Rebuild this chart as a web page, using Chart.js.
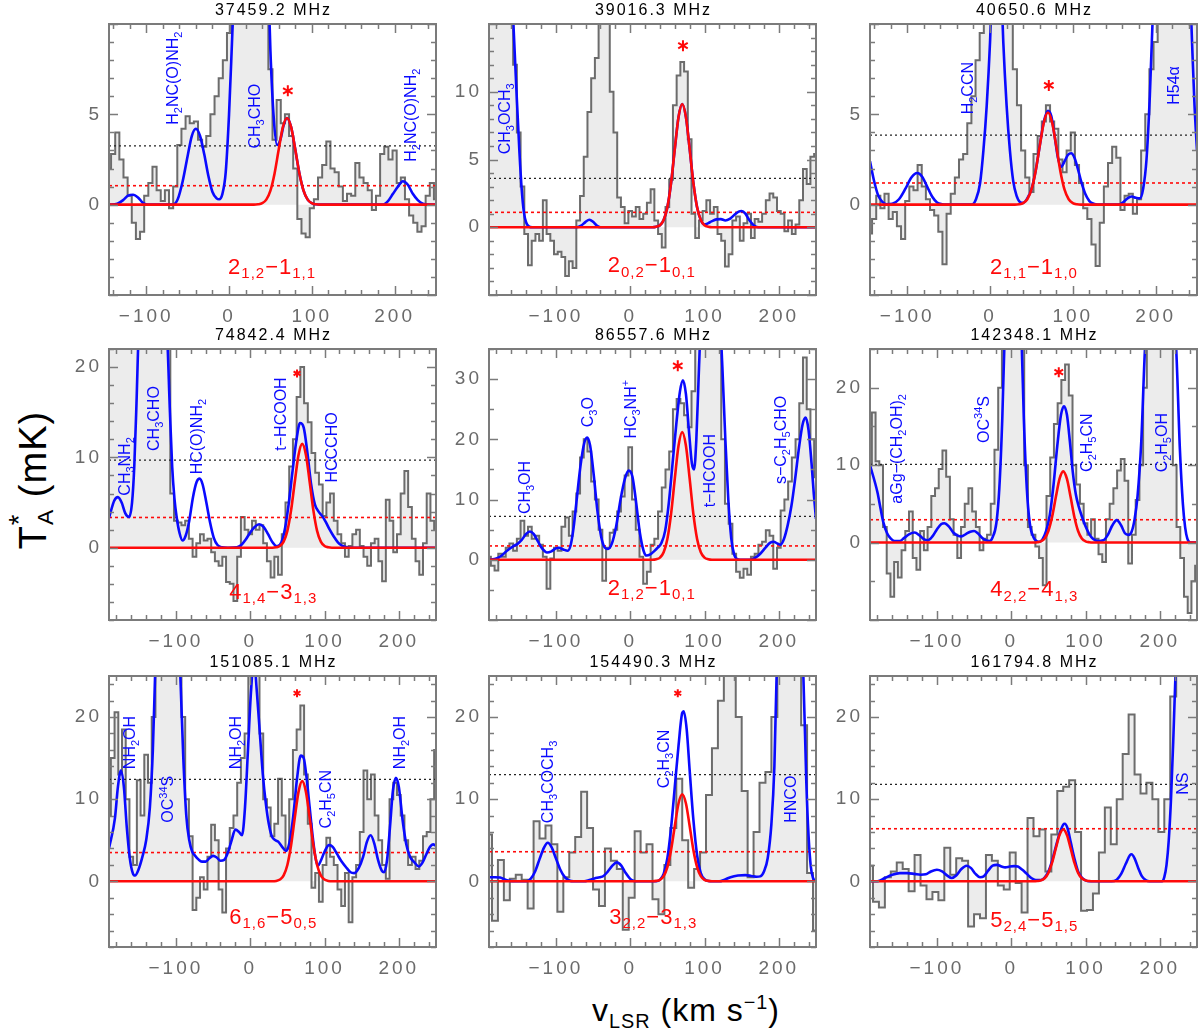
<!DOCTYPE html>
<html>
<head>
<meta charset="utf-8">
<title>Spectra</title>
<script src="https://cdn.jsdelivr.net/npm/chart.js@4.4.1/dist/chart.umd.min.js"></script>
<style>
  html, body { margin: 0; padding: 0; background: #fff; }
  body { position: relative; width: 1200px; height: 1033px; overflow: hidden;
         font-family: 'Liberation Sans', Arial, Helvetica, sans-serif; }
  canvas { position: absolute; }
  .axis-title { position: absolute; white-space: nowrap; color: #000; transform-origin: center; }
  #ytitle { left: 33px; top: 480px; font-size: 38px; letter-spacing: 1px;
            transform: translate(-50%, -50%) rotate(-90deg); }
  #xtitle { left: 686px; top: 1012px; font-size: 32px; letter-spacing: 1px;
            transform: translate(-50%, -50%); }
  .ta { position: relative; }
  .ta .sa { font-size: 0.6em; position: relative; top: 0.32em; }
  .ta .st { font-size: 0.72em; position: absolute; left: 24px; top: -9px; }
  #xtitle sub, #xtitle sup { font-size: 0.62em; }
</style>
</head>
<body>
<div class="axis-title" id="ytitle"><span class="ta">T<span class="sa">A</span><span class="st">*</span></span>&nbsp;(mK)</div>
<div class="axis-title" id="xtitle">v<sub>LSR</sub>&nbsp;(km&nbsp;s<sup>&minus;1</sup>)</div>
<script>
// ---- observed spectra: T_A* (mK) per channel ----
const hist1 = [
  2.0, 2.8, 4.0, 2.5, 1.5, 0.5, -1.0, -1.9, -1.5, 0.5,
  1.2, 2.1, 0.8, 0.2, 0.8, -0.2, 1.0, 3.3, 4.2, 4.9,
  4.5, 4.6, 3.6, 3.2, 3.8, 5.0, 6.0, 7.0, 8.0, 9.5,
  20, 20, 20, 20, 20, 20, 20, 20, 16, 7.5,
  3.6, 5.8, 4.5, 5.0, 3.8, 2.0, -0.8, -1.6, -1.8, -0.2,
  0.3, 1.5, 2.2, 3.5, 2.0, 1.8, 1.0, 0.2, 0.6, 0.5,
  2.3, 1.5, 1.2, 0.8, -0.3, 0.5, 2.8, 3.2, 2.5, 3.0,
  1.2, 1.5, 0.3, -0.6, -1.0, -1.5, -1.2, 0.5, 1.2, 0.3
];
const hist2 = [
  20, 20, 20, 20, 20, 20, 18, 12, 7.0, 3.0,
  -0.5, -2.8, -1.0, -0.5, -1.0, 2.0, -0.5, -1.0, -2.0, -1.8,
  -2.2, -3.6, -2.5, -3.0, 0.5, 2.3, 5.2, 8.5, 11.0, 12.5,
  18, 20, 19, 10, 7.0, 2.2, 1.5, 0.3, 1.2, 0.8,
  1.5, 0.6, 1.0, 1.8, 2.8, 0.5, -0.5, -1.5, 1.5, 3.5,
  9.0, 11.2, 12.2, 11.5, 6.5, 1.0, -0.8, 0.5, 1.2, 2.0,
  1.0, 1.5, -0.5, -1.0, -2.9, -2.0, 0.5, 0.8, -1.0, 0.3,
  1.0, -0.8, 0.6, 0.4, 1.0, 2.0, 2.5, 2.2, 1.2, 1.0,
  -0.3, 0.5, -0.5, 0.2, 2.0, 4.3, 3.2, 5.2, 5.4
];
const hist3 = [
  -1.6, -0.8, 0.5, -0.2, 0.6, -0.8, -0.4, -1.2, -1.9, 0.2,
  1.0, 0.8, 2.2, 1.0, 0.3, -0.3, -0.6, -1.5, -3.3, -0.5,
  0.6, 1.5, 2.5, 2.8, 4.5, 6.0, 8.0, 9.5, 12, 16,
  20, 20, 20, 20, 20, 7.5, 5.5, 3.0, 1.5, 0.7,
  2.8, 3.8, 4.6, 5.5, 4.6, 4.2, 2.5, 1.8, 3.0, 4.0,
  2.2, 1.2, -0.2, -0.8, -2.2, -3.4, -1.0, 1.0, 2.3, 3.2,
  2.6, -0.3, 0.5, 0.6, -0.5, 0.3, 3.0, 5.0, 7.5, 9.0,
  20, 20, 20, 20, 20, 20, 20, 20, 20, 20
];
const hist4 = [
  30, 30, 30, 30, 30, 30, 30, 30, 30, 30,
  30, 30, 30, 30, 30, 30, 30, 6.0, 3.0, 2.8,
  2.5, 3.0, 1.0, -1.0, 0.5, 1.5, 0.8, 1.0, -0.5, -1.5,
  -2.0, -1.0, -3.8, -4.0, -5.9, -1.0, 3.4, 2.0, 1.5, 3.0,
  2.0, 2.5, 0.5, -1.5, -3.3, -1.0, -3.0, 1.5, 5.0, 9.0,
  12.0, 16.7, 20.0, 16.0, 13.9, 10.5, 8.3, 7.0, 3.5, 5.0,
  6.0, 3.0, 1.5, 0.5, -1.0, 0.2, 1.5, 2.0, 0.2, -1.0,
  -2.0, 0.5, 1.0, -1.5, -3.7, 5.3, 3.0, -0.5, 1.5, 6.0,
  8.5, 4.5, 1.0, -1.5, -3.0, 0.5, 6.0, 3.0, 2.0
];
const hist5 = [
  0.5, -1.0, -1.8, 1.0, 0.5, 2.0, 2.7, 1.5, 3.5, 6.5,
  4.0, 5.5, 3.5, 4.0, 2.5, 0.5, -4.8, 0.2, 2.0, 1.5,
  5.5, 7.0, 4.0, 8.0, 11.0, 17.0, 20.0, 18.0, 13.0, 10.0,
  5.0, -3.5, 2.0, 4.5, 5.0, 8.0, 10.5, 14.0, 18.7, 10.0,
  5.0, 0.5, -4.0, -2.0, 2.5, 3.5, 8.0, 12.0, 15.0, 18.0,
  25.0, 26.7, 26.0, 24.0, 22.0, 28.0, 36, 40, 40, 40,
  40, 40, 40, 20, 9.3, 6.0, 1.0, -2.0, -3.0, -1.5,
  -2.5, 0.5, 1.0, 2.5, 3.0, 4.9, 4.0, -1.5, 2.0, 8.2,
  10.0, 13.0, 17.0, 20.0, 26.0, 33.6, 25.0, 20.0, 13.7
];
const hist6 = [
  10.0, 16.8, 10.5, 10.0, 2.0, -4.0, -7.0, -2.5, -4.5, -1.0,
  1.5, 4.0, -2.0, -3.5, 1.5, -1.0, 2.0, 6.0, 7.0, 9.5,
  11.9, 8.5, 3.0, 1.0, -2.0, 2.0, 5.0, 7.0, 4.0, 2.0,
  -1.0, 0.5, 1.0, 5.0, 12.0, 20.0, 30, 30, 30, 30,
  30, 30, 10.0, 2.0, 1.0, -0.5, -2.0, -5.5, 6.0, 11.0,
  15.3, 18.0, 21.0, 23.0, 19.0, 10.0, 7.5, 5.0, 2.5, 1.0,
  3.0, 0.5, -1.5, -2.5, 3.0, 5.0, 7.0, 9.3, 10.8, 8.0,
  -2.7, 1.0, 5.5, 10.0, 20, 30, 30, 30, 30, 30,
  30, 30, 10.0, 2.0, -2.0, -7.0, -9.1, -5.0, -3.0
];
const hist7 = [
  8.0, 15.0, 20.6, 13.0, 18.5, 10.0, 3.0, 2.0, 12.3, 8.0,
  15.4, 12.0, 20.0, 30, 30, 30, 30, 30, 30, 25.5,
  20.0, 10.0, 5.5, -3.5, -2.0, 0.5, -1.0, 3.0, 6.9, 5.0,
  -1.0, -3.8, 4.0, 6.5, 8.0, 12.0, 15.0, 18.0, 26, 30,
  26, 18.0, 10.0, 9.0, 5.5, 7.0, 12.5, 8.0, 4.0, 10.0,
  16.0, 18.5, 21.4, 13.0, 7.0, -0.8, 1.0, -2.5, 2.0, 5.3,
  3.0, 2.0, -1.0, -3.0, 1.0, -5.0, 0.5, 2.0, 6.0, 13.5,
  10.0, 13.0, 8.0, 5.0, 2.0, 0.3, 10.0, 12.0, 10.5, 8.0,
  5.0, 2.0, 3.0, 1.5, 2.5, 5.5, 6.0, 10.0, 16.0
];
const hist8 = [
  5.7, -4.8, 2.6, -2.3, 0.3, 0.8, 0.2, -3.3, 7.3, 5.2,
  6.8, 4.5, -3.7, 0.5, 3.5, 5.4, 10.9, 6.5, -1.0, -3.0,
  4.0, 2.5, 1.5, -5.9, -2.0, 6.1, 3.5, 4.5, -2.2, -4.0,
  2.0, 6.5, 12.5, 5.0, -0.8, 1.5, 3.5, 10.5, 16.2, 22.0,
  30, 30, 20.0, 11.0, 0.5, 6.0, 12.0, 13.3, 20.0, 30,
  30, 30, 30, 19.0, 1.0, -6.0
];
const hist9 = [
  1.9, -2.5, -3.2, 0.5, 1.2, 2.3, 1.5, -1.2, 3.2, -0.5,
  -2.2, -1.3, -2.3, 4.1, 0.8, 2.8, 2.5, -5.5, -4.0, -4.5,
  3.2, 2.5, -0.5, -1.0, 3.5, -0.2, -3.8, 7.7, 5.5, 6.3,
  1.2, 5.7, 11.0, 11.5, 12.3, 6.0, -3.6, -3.5, -1.5, 3.5,
  9.0, 4.5, 10.0, 15.5, 20.3, 13.0, 10.7, 12.0, 10.0, 6.0,
  10.0, 22.5, 30, 30, 30, 30
];
// first channel velocity and channel width (km/s)
const histStart = [-145, -190, -145, -190, -190, -190, -190, -190, -190];
const histStep = [5, 5, 5, 5, 5, 5, 5, 8, 8];

// ---- full model (blue), [v, T] ----
const blue1 = [[-145,0],[-135,0.05],[-128,0.25],[-122,0.5],[-116,0.55],[-110,0.4],[-104,0.1],[-98,0],[-68,0],[-62,0.3],[-56,1.3],[-50,2.7],[-45,3.8],[-40,4.2],[-35,3.8],[-30,2.8],[-25,1.6],[-20,0.7],[-15,0.35],[-12,0.3],[-8,0.6],[-4,1.8],[0,5],[4,9.5],[8,14],[20,30],[35,28],[45,16],[50,8.5],[54,4.8],[58,3.3],[62,3.6],[66,4.4],[70,4.8],[75,4.3],[80,3.05],[85,1.73],[90,0.78],[95,0.28],[100,0.08],[105,0.02],[110,0],[185,0],[192,0.2],[198,0.6],[204,1.0],[210,1.3],[216,1.1],[222,0.6],[228,0.25],[234,0.05],[240,0],[250,0]];
const blue2 = [[-190,60],[-175,40],[-165,25],[-158,16],[-153,10],[-149,5.5],[-146,2.8],[-143,1.1],[-140,0.35],[-136,0.05],[-132,0],[-72,0],[-66,0.12],[-60,0.4],[-55,0.55],[-50,0.4],[-45,0.12],[-40,0],[30,0],[35,0.04],[40,0.15],[45,0.54],[50,1.48],[55,3.28],[60,5.78],[65,8.13],[70,9.1],[75,8.13],[80,5.78],[85,3.28],[90,1.48],[95,0.54],[100,0.2],[105,0.3],[110,0.45],[116,0.58],[122,0.6],[128,0.5],[134,0.62],[140,0.9],[146,1.15],[150,1.2],[155,1.0],[160,0.55],[166,0.15],[172,0],[250,0]];
const blue3 = [[-145,2.4],[-140,1.3],[-135,0.5],[-130,0.15],[-125,0.02],[-118,0.05],[-110,0.3],[-102,0.9],[-95,1.5],[-88,1.75],[-82,1.55],[-76,1.0],[-70,0.45],[-64,0.12],[-58,0.02],[-52,0],[-22,0],[-17,0.3],[-12,1.2],[-8,3],[-4,5.5],[0,9],[4,14],[8,17],[12,14],[16,9],[20,5.5],[24,3],[28,1.3],[32,0.5],[36,0.15],[40,0.1],[45,0.35],[50,0.85],[55,1.85],[60,3.25],[65,4.6],[70,5.2],[74,4.9],[78,3.8],[82,2.6],[86,2.1],[90,2.4],[94,2.75],[98,2.85],[102,2.6],[106,2.0],[110,1.3],[115,0.6],[120,0.2],[125,0.05],[130,0],[155,0],[160,0.1],[166,0.35],[171,0.45],[176,0.38],[181,0.35],[185,0.9],[189,2.5],[193,6],[197,11],[205,20],[225,25],[240,14],[244,9],[247,5.5],[250,3.0]];
const blue4 = [[-190,3.3],[-183,5.2],[-178,5.6],[-173,5.0],[-168,3.8],[-163,3.4],[-159,5],[-156,9],[-153,16],[-150,24],[-130,40],[-112,24],[-108,15],[-105,9],[-102,5.5],[-99,3.4],[-95,1.6],[-91,0.8],[-87,1.3],[-82,3.0],[-77,5.6],[-72,7.3],[-68,7.65],[-64,7.0],[-59,5.0],[-54,2.8],[-49,1.1],[-44,0.3],[-38,0.05],[-30,0],[-18,0.05],[-12,0.3],[-6,0.9],[0,1.7],[6,2.3],[12,2.6],[18,2.3],[24,1.5],[30,0.6],[36,0.15],[42,0.6],[47,2.2],[52,5.0],[57,8.5],[62,11.8],[67,13.8],[72,13.3],[77,10.5],[82,7.0],[87,4.8],[92,4.0],[97,3.5],[102,2.8],[107,2.0],[112,1.3],[118,0.6],[124,0.2],[130,0.05],[135,0],[250,0]];
const blue5 = [[-190,0],[-180,0.2],[-172,0.8],[-165,1.6],[-158,2.2],[-152,2.6],[-146,3.3],[-140,4.3],[-135,4.7],[-130,4.3],[-124,3.0],[-118,1.8],[-112,1.2],[-106,1.4],[-100,1.9],[-96,2.0],[-90,1.7],[-84,1.5],[-80,2.5],[-76,5.5],[-72,10],[-67,15.5],[-62,19.3],[-58,20.3],[-54,19],[-49,14],[-44,8],[-39,3.8],[-34,2.0],[-30,1.8],[-25,2.6],[-19,5.5],[-13,10],[-7,13.5],[-2,14.8],[3,13.8],[8,9.5],[13,4.5],[18,1.5],[22,0.7],[27,0.9],[32,1.4],[37,2.0],[42,2.8],[47,4.8],[52,9.5],[57,16],[62,22.5],[67,28],[71,29.8],[75,27.5],[79,21.5],[83,16],[86,15],[89,20],[92,30],[96,42],[110,55],[120,42],[124,32],[128,20],[132,10],[136,3.5],[140,0.8],[144,0.1],[148,0],[162,0],[168,0.3],[175,1.0],[182,2.0],[188,2.8],[193,3.0],[198,2.7],[202,2.5],[207,3.5],[212,5.8],[217,9.0],[222,13.5],[227,18.5],[232,22.5],[236,23.6],[240,21.5],[244,16],[247,11],[250,6.8]];
const blue6 = [[-190,10],[-180,6.5],[-176,4.5],[-172,2.6],[-167,1.2],[-162,0.5],[-157,0.2],[-150,0.2],[-144,0.6],[-137,1.1],[-130,1.3],[-123,0.9],[-117,0.4],[-112,0.3],[-106,0.8],[-100,1.7],[-94,2.4],[-90,2.5],[-84,2.1],[-78,1.3],[-72,0.9],[-67,0.8],[-61,1.1],[-55,1.4],[-50,1.5],[-45,1.2],[-39,0.6],[-34,0.3],[-29,0.2],[-25,0.7],[-20,2.5],[-16,7],[-12,16],[-9,26],[2,45],[14,26],[17,16],[21,7],[25,2.5],[30,0.7],[34,0.2],[38,0.1],[42,0.4],[47,1.5],[52,3.6],[57,7.5],[62,12.5],[67,16.5],[71,17.6],[75,16.5],[79,13],[83,9],[87,6.2],[91,4.6],[95,3.4],[100,2.1],[105,1.1],[110,0.5],[117,0.2],[124,0.3],[130,1.0],[136,2.2],[142,2.9],[148,2.2],[153,1.2],[158,1.0],[162,1.4],[166,3],[170,6],[175,13],[180,25],[201,50],[222,25],[227,12],[231,5],[234,2],[237,0.5],[241,0],[250,0]];
const blue7 = [[-190,4],[-182,7.7],[-178,11.5],[-174,13.5],[-170,11.5],[-166,6.5],[-162,2.8],[-158,1.0],[-155,0.7],[-150,1.5],[-145,3.0],[-140,5.0],[-135,9],[-131,16],[-128,25],[-124,35],[-110,45],[-98,33],[-94,25],[-90,15],[-86,8],[-82,5],[-78,3.6],[-74,3.1],[-70,2.7],[-65,2.4],[-60,2.4],[-55,2.8],[-50,3.1],[-45,2.9],[-40,2.5],[-35,2.6],[-30,3.5],[-25,5.0],[-20,6.3],[-15,6.0],[-11,5.6],[-7,9],[-3,16],[1,23],[5,27],[9,23],[13,18],[17,13],[21,9.5],[25,7],[29,5.5],[34,5.0],[38,4.8],[43,4.2],[48,3.7],[53,4.8],[58,8.0],[63,12.5],[68,15.3],[72,15.0],[76,12.5],[80,9],[84,5.5],[88,2.8],[91,1.9],[95,2.5],[100,3.6],[106,4.4],[111,4.2],[117,3.3],[123,2.4],[130,1.6],[135,1.1],[140,1.0],[146,1.6],[152,3.0],[157,4.8],[162,5.6],[167,4.6],[172,2.6],[177,1.3],[180,1.1],[184,2.5],[188,6.5],[192,11],[196,12.6],[200,11.5],[205,7.5],[210,4.5],[215,3.0],[221,2.3],[227,1.8],[232,2.3],[237,3.3],[242,4.2],[246,4.5],[250,4.3]];
const blue8 = [[-190,0.5],[-182,0.5],[-175,0.45],[-168,0.2],[-162,0.05],[-156,0],[-140,0],[-134,0.3],[-128,1.2],[-122,2.7],[-116,4.1],[-111,4.7],[-106,4.2],[-100,2.8],[-94,1.4],[-88,0.5],[-82,0.1],[-76,0],[-62,0],[-55,0.15],[-48,0.35],[-41,0.5],[-36,0.65],[-30,1.2],[-24,1.9],[-18,2.3],[-12,1.9],[-6,1.0],[0,0.3],[5,0.05],[10,0],[35,0],[40,0.2],[45,0.9],[50,2.8],[55,6.5],[60,11.5],[65,16.5],[70,20.5],[72,20.7],[76,18.5],[80,13.5],[85,7.5],[90,3.2],[95,1.0],[100,0.25],[105,0.05],[110,0],[120,0],[127,0.2],[135,0.5],[145,0.7],[155,0.75],[163,0.65],[170,0.55],[175,0.6],[180,1.2],[185,2.8],[190,7],[194,14],[197,25],[215,45],[233,25],[237,12],[240,5.5],[243,1.8],[246,0.4],[250,0]];
const blue9 = [[-190,0],[-180,0],[-170,0.4],[-160,0.8],[-150,1.0],[-140,1.0],[-130,0.9],[-122,0.8],[-115,0.85],[-108,1.2],[-100,1.4],[-93,1.2],[-86,0.7],[-80,0.4],[-74,0.7],[-67,1.5],[-60,1.9],[-54,1.6],[-48,0.9],[-42,0.5],[-37,0.6],[-31,1.3],[-25,1.9],[-19,2.0],[-13,1.8],[-8,1.7],[-2,1.8],[4,1.85],[9,1.8],[15,1.4],[21,0.9],[27,0.4],[33,0.15],[40,0.15],[45,0.45],[50,1.2],[55,2.5],[60,4.2],[65,5.8],[70,6.9],[72,7.0],[76,6.4],[80,4.8],[85,2.8],[90,1.2],[95,0.45],[100,0.12],[105,0],[135,0],[142,0.2],[148,0.9],[154,2.1],[160,3.2],[162,3.3],[166,2.8],[171,1.6],[176,0.6],[181,0.15],[186,0],[203,0],[206,0.5],[209,2],[212,5],[215,10],[218,17],[221,25],[230,45],[250,60]];

// ---- fitted line (red), [v, T] ----
const red1 = [[-145,0],[30,0],[35,0.02],[40,0.08],[45,0.28],[50,0.78],[55,1.73],[60,3.05],[65,4.29],[70,4.8],[75,4.29],[80,3.05],[85,1.73],[90,0.78],[95,0.28],[100,0.08],[105,0.02],[110,0],[250,0]];
const red2 = [[-190,0],[30,0],[35,0.04],[40,0.15],[45,0.54],[50,1.48],[55,3.28],[60,5.78],[65,8.13],[70,9.1],[75,8.13],[80,5.78],[85,3.28],[90,1.48],[95,0.54],[100,0.15],[105,0.04],[110,0],[250,0]];
const red3 = [[-145,0],[30,0],[35,0.02],[40,0.09],[45,0.3],[50,0.83],[55,1.84],[60,3.24],[65,4.55],[70,5.1],[75,4.55],[80,3.24],[85,1.84],[90,0.83],[95,0.3],[100,0.09],[105,0.02],[110,0],[250,0]];
const red4 = [[-190,0],[30,0],[35,0.05],[40,0.2],[45,0.68],[50,1.87],[55,4.14],[60,7.3],[65,10.27],[70,11.5],[75,10.27],[80,7.3],[85,4.14],[90,1.87],[95,0.68],[100,0.2],[105,0.05],[110,0],[250,0]];
const red5 = [[-190,0],[30,0],[35,0.09],[40,0.36],[45,1.25],[50,3.46],[55,7.63],[60,13.46],[65,18.93],[70,21.2],[75,18.93],[80,13.46],[85,7.63],[90,3.46],[95,1.25],[100,0.36],[105,0.09],[110,0],[250,0]];
const red6 = [[-190,0],[30,0],[35,0.04],[40,0.16],[45,0.54],[50,1.5],[55,3.31],[60,5.84],[65,8.22],[70,9.2],[75,8.22],[80,5.84],[85,3.31],[90,1.5],[95,0.54],[100,0.16],[105,0.04],[110,0],[250,0]];
const red7 = [[-190,0],[30,0],[35,0.05],[40,0.21],[45,0.72],[50,1.99],[55,4.39],[60,7.75],[65,10.89],[70,12.2],[75,10.89],[80,7.75],[85,4.39],[90,1.99],[95,0.72],[100,0.21],[105,0.05],[110,0],[250,0]];
const red8 = [[-190,0],[30,0],[35,0.05],[40,0.18],[45,0.63],[50,1.73],[55,3.82],[60,6.73],[65,9.47],[70,10.6],[75,9.47],[80,6.73],[85,3.82],[90,1.73],[95,0.63],[100,0.18],[105,0.05],[110,0],[250,0]];
const red9 = [[-190,0],[30,0],[35,0.03],[40,0.11],[45,0.37],[50,1.03],[55,2.27],[60,4.0],[65,5.63],[70,6.3],[75,5.63],[80,4.0],[85,2.27],[90,1.03],[95,0.37],[100,0.11],[105,0.03],[110,0],[250,0]];

// ---- per panel ----
const titles = ['37459.2 MHz', '39016.3 MHz', '40650.6 MHz', '74842.4 MHz', '86557.6 MHz',
  '142348.1 MHz', '151085.1 MHz', '154490.3 MHz', '161794.8 MHz'];
const transitions = ['2_{1,2}\u22121_{1,1}', '2_{0,2}\u22121_{0,1}', '2_{1,1}\u22121_{1,0}',
  '4_{1,4}\u22123_{1,3}', '2_{1,2}\u22121_{0,1}', '4_{2,2}\u22124_{1,3}',
  '6_{1,6}\u22125_{0,5}', '3_{2,2}\u22123_{1,3}', '5_{2,4}\u22125_{1,5}'];
const xRanges = [[-145,250],[-190,250],[-145,250],[-190,250],[-190,250],[-190,250],[-190,250],[-190,250],[-190,250]];
const yRanges = [[-5,10],[-5,15],[-5,10],[-8,22],[-10,35],[-10,25],[-8,25],[-8,25],[-8,25]];
const yMajor = [5, 5, 5, 10, 10, 10, 10, 10, 10];
const yMinor = [1, 1, 1, 2, 5, 5, 2, 2, 2];
const rmsBlack = [3.25, 3.6, 3.85, 9.7, 7.2, 10.1, 12.4, 13.0, 11.8];
const rmsRed = [1.05, 1.1, 1.2, 3.35, 2.3, 2.95, 3.5, 3.6, 6.4];

const histData = [hist1, hist2, hist3, hist4, hist5, hist6, hist7, hist8, hist9];
const blueData = [blue1, blue2, blue3, blue4, blue5, blue6, blue7, blue8, blue9];
const redData = [red1, red2, red3, red4, red5, red6, red7, red8, red9];

// annotation placement (velocity, T)
const moleculeLabels = [
  [['H_2NC(O)NH_2', -69, 7.0], ['CH_3CHO', 30, 4.9], ['H_2NC(O)NH_2', 219, 4.95]],
  [['CH_3OCH_3', -169, 8.0]],
  [['H_2CCN', -28, 6.45], ['H54\u03b1', 221, 6.6]],
  [['CH_3NH_2', -169, 9.0], ['CH_3CHO', -130, 14.3], ['HC(O)NH_2', -72, 12.3], ['t\u2212HCOOH', 40, 14.8], ['HCCCHO', 109, 11.1]],
  [['CH_3OH', -142, 12], ['C_3O', -58, 24.5], ['HC_3NH^+', 0, 25], ['t\u2212HCOOH', 106, 14.8], ['s\u2212C_2H_5CHO', 202, 19.9]],
  [['aGg\u2212(CH_2OH)_2', -155, 12.1], ['OC^{34}S', -38, 15.9], ['C_2H_5CN', 101, 12.9], ['C_2H_5OH', 202, 12.9]],
  [['NH_2OH', -163, 16.9], ['OC^{34}S', -111, 10], ['NH_2OH', -20, 16.9], ['C_2H_5CN', 101, 10], ['NH_2OH', 200, 16.9]],
  [['CH_3COCH_3', -112, 12.1], ['C_2H_3CN', 45, 14.9], ['HNCO', 216, 10]],
  [['NS', 230, 11.9]]
];
const transitionPos = [[52,-3.4],[29,-2.75],[53,-3.4],[31,-4.8],[29,-4.5],[31,-5.9],[31,-4.2],[31,-4.2],[31,-4.6]];
const starPos = [[71,6.3],[71,13.4],[71,6.6],[63,19.3],[64,32.2],[64,22],[63,22.9],[64,22.9],null];
const starSize = [5.5, 5.5, 5.5, 4, 5.5, 5, 4, 4, 0];

// ---- layout ----
const PLOT_LEFT = [109, 489, 870];
const PLOT_TOP = [24, 349, 676];
const PLOT_W = 327, PLOT_H = 271;
const AXIS_W = 55, TITLE_H = 24, XAXIS_H = 40, PAD_R = 4;
const X_MAJOR = 100, X_MINOR = 20;

const FONT = "'Liberation Sans', Arial, Helvetica, sans-serif";
const AXIS_COLOR = '#7b7b7b';
const TICK_TEXT = '#6a6a6a';
const HIST_LINE = '#6c6c6c';
const HIST_FILL = '#ececec';
const BLUE = '#0a0aff';
const RED = '#ff0a0a';

function fmt(v) {
  return v < 0 ? '\u2212' + (-v) : String(v);
}

function pairs(a) {
  return a.map(p => ({x: p[0], y: p[1]}));
}

// multiples of step inside [min, max]
function tickValues(min, max, step) {
  const out = [];
  for (let v = Math.ceil(min / step) * step; v <= max; v += step) out.push({value: v});
  return out;
}

// split "CH_3OH" / "OC^{34}S" into normal, sub and sup runs
function parseRich(s) {
  const out = [];
  let i = 0;
  while (i < s.length) {
    const c = s[i];
    if (c === '_' || c === '^') {
      let t;
      if (s[i + 1] === '{') {
        const j = s.indexOf('}', i);
        t = s.slice(i + 2, j);
        i = j + 1;
      } else {
        t = s[i + 1];
        i += 2;
      }
      out.push({t: t, k: c === '_' ? 'sub' : 'sup'});
    } else {
      let j = i;
      while (j < s.length && s[j] !== '_' && s[j] !== '^') j++;
      out.push({t: s.slice(i, j), k: 'n'});
      i = j;
    }
  }
  return out;
}

function drawRich(ctx, s, x, y, size, color, spacing, subDrop) {
  const parts = parseRich(s);
  const small = Math.round(size * 0.68);
  ctx.fillStyle = color;
  ctx.textBaseline = 'alphabetic';
  ctx.textAlign = 'left';
  ctx.letterSpacing = spacing + 'px';
  let w = 0;
  parts.forEach(p => {
    ctx.font = (p.k === 'n' ? size : small) + 'px ' + FONT;
    p.w = ctx.measureText(p.t).width;
    w += p.w;
  });
  let cx = x - w / 2;
  const base = y + size * 0.36;
  parts.forEach(p => {
    ctx.font = (p.k === 'n' ? size : small) + 'px ' + FONT;
    const dy = p.k === 'sub' ? size * subDrop : (p.k === 'sup' ? -size * 0.42 : 0);
    ctx.fillText(p.t, cx, base + dy);
    cx += p.w;
  });
}

function drawStar(ctx, x, y, r) {
  ctx.beginPath();
  for (let k = 0; k < 3; k++) {
    const a = Math.PI / 2 + k * Math.PI / 3;
    ctx.moveTo(x + r * Math.cos(a), y - r * Math.sin(a));
    ctx.lineTo(x - r * Math.cos(a), y + r * Math.sin(a));
  }
  ctx.stroke();
}

const panelDecor = {
  id: 'panelDecor',
  beforeDraw(chart) {
    chart.ctx.letterSpacing = '3px';
  },
  afterDraw(chart, args, opts) {
    const i = opts.index;
    const ctx = chart.ctx;
    const a = chart.chartArea;
    const xs = chart.scales.x, ys = chart.scales.y;
    ctx.save();
    ctx.letterSpacing = '0px';

    // frame with inward ticks on all sides
    ctx.strokeStyle = AXIS_COLOR;
    ctx.lineWidth = 1.5;
    ctx.beginPath();
    for (let v = Math.ceil(xs.min / X_MINOR) * X_MINOR; v <= xs.max; v += X_MINOR) {
      const px = Math.round(xs.getPixelForValue(v)) + 0.5;
      const len = v % X_MAJOR === 0 ? 9 : 5;
      ctx.moveTo(px, a.bottom); ctx.lineTo(px, a.bottom - len);
      ctx.moveTo(px, a.top); ctx.lineTo(px, a.top + len);
    }
    for (let v = Math.ceil(ys.min / yMinor[i]) * yMinor[i]; v <= ys.max; v += yMinor[i]) {
      const py = Math.round(ys.getPixelForValue(v)) + 0.5;
      const len = v % yMajor[i] === 0 ? 9 : 5;
      ctx.moveTo(a.left, py); ctx.lineTo(a.left + len, py);
      ctx.moveTo(a.right, py); ctx.lineTo(a.right - len, py);
    }
    ctx.stroke();
    ctx.lineWidth = 2;
    ctx.strokeRect(a.left, a.top, a.right - a.left, a.bottom - a.top);

    // molecule labels, rotated
    moleculeLabels[i].forEach(m => {
      ctx.save();
      ctx.translate(xs.getPixelForValue(m[1]), ys.getPixelForValue(m[2]));
      ctx.rotate(-Math.PI / 2);
      drawRich(ctx, m[0], 0, 0, 16, BLUE, 0, 0.25);
      ctx.restore();
    });

    // transition label
    const tp = transitionPos[i];
    drawRich(ctx, transitions[i], xs.getPixelForValue(tp[0]), ys.getPixelForValue(tp[1]), 22, RED, 1, 0.2);

    // asterisk
    if (starPos[i]) {
      ctx.strokeStyle = RED;
      ctx.lineWidth = 2;
      drawStar(ctx, xs.getPixelForValue(starPos[i][0]), ys.getPixelForValue(starPos[i][1]), starSize[i]);
    }

    // panel title
    ctx.fillStyle = '#000';
    ctx.font = '16px ' + FONT;
    ctx.letterSpacing = '2px';
    ctx.textAlign = 'center';
    ctx.textBaseline = 'middle';
    ctx.fillText(titles[i], (a.left + a.right) / 2 + 1, a.top - 13);
    ctx.restore();
  }
};
Chart.register(panelDecor);

for (let i = 0; i < 9; i++) {
  const col = i % 3, row = Math.floor(i / 3);
  const cv = document.createElement('canvas');
  cv.width = AXIS_W + PLOT_W + PAD_R;
  cv.height = TITLE_H + PLOT_H + XAXIS_H;
  cv.style.left = (PLOT_LEFT[col] - AXIS_W) + 'px';
  cv.style.top = (PLOT_TOP[row] - TITLE_H) + 'px';
  document.body.appendChild(cv);

  const x0 = xRanges[i][0], x1 = xRanges[i][1];
  const y0 = yRanges[i][0], y1 = yRanges[i][1];
  const hist = histData[i].map((t, k) => ({x: histStart[i] + k * histStep[i], y: t}));

  new Chart(cv, {
    type: 'line',
    data: {
      datasets: [
        {data: pairs(redData[i]), borderColor: RED, borderWidth: 2.6, pointRadius: 0,
         cubicInterpolationMode: 'monotone', fill: false, order: 0},
        {data: pairs(blueData[i]), borderColor: BLUE, borderWidth: 2.6, pointRadius: 0,
         cubicInterpolationMode: 'monotone', fill: false, order: 1},
        {data: [{x: x0, y: rmsRed[i]}, {x: x1, y: rmsRed[i]}], borderColor: RED, borderWidth: 1.6,
         borderDash: [3, 3], pointRadius: 0, fill: false, order: 2},
        {data: [{x: x0, y: rmsBlack[i]}, {x: x1, y: rmsBlack[i]}], borderColor: '#222', borderWidth: 1.2,
         borderDash: [2, 3], pointRadius: 0, fill: false, order: 3},
        {data: hist, stepped: 'middle', borderColor: HIST_LINE, borderWidth: 2,
         backgroundColor: HIST_FILL, fill: 'origin', pointRadius: 0, order: 4}
      ]
    },
    options: {
      responsive: false,
      animation: false,
      events: [],
      layout: {padding: {top: TITLE_H, right: PAD_R, left: 0, bottom: 0}},
      scales: {
        x: {
          type: 'linear', min: x0, max: x1,
          grid: {display: false, drawTicks: false},
          border: {display: false},
          ticks: {autoSkip: false, maxRotation: 0, padding: 10,
                  color: TICK_TEXT, font: {family: FONT, size: 19}, callback: v => fmt(v)},
          afterBuildTicks: s => { s.ticks = tickValues(x0, x1, X_MAJOR); },
          afterFit: s => { s.height = XAXIS_H; }
        },
        y: {
          type: 'linear', min: y0, max: y1,
          grid: {display: false, drawTicks: false},
          border: {display: false},
          ticks: {autoSkip: false, padding: 7,
                  color: TICK_TEXT, font: {family: FONT, size: 19},
                  callback: v => (v === y0 || v === y1) ? '' : fmt(v)},
          afterBuildTicks: s => { s.ticks = tickValues(y0, y1, yMajor[i]); },
          afterFit: s => { s.width = AXIS_W; }
        }
      },
      plugins: {
        legend: {display: false},
        tooltip: {enabled: false},
        panelDecor: {index: i}
      }
    }
  });
}
</script>
</body>
</html>
